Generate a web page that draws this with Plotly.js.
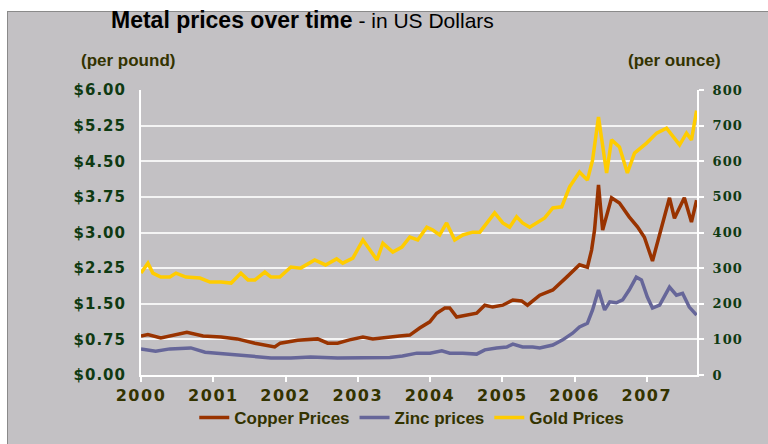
<!DOCTYPE html>
<html>
<head>
<meta charset="utf-8">
<script src="https://cdn.plot.ly/plotly-3.0.1.min.js"></script>
<style>
  html, body { margin: 0; padding: 0; background: #ffffff; }
  #frame { position: absolute; left: 7px; top: 11px; width: 761px; height: 433px;
           background: #c3c1c4; border-left: 1px solid #8a8a8a; border-top: 1px solid #8a8a8a; }
  #chart { position: absolute; left: 0; top: 0; width: 768px; height: 444px; }
  .ytick text, .y2tick text { letter-spacing: 1px; }
  .xtick text { letter-spacing: 1.5px; }
</style>
</head>
<body>
<div id="frame"></div>
<div id="chart"></div>
<script>
// ---- data ----
const copperDates = ["2000-01-01","2000-02-05","2000-04-10","2000-06-01","2000-08-20","2000-11-10","2001-02-09","2001-05-01","2001-07-30","2001-11-07","2001-12-05","2002-03-03","2002-06-12","2002-08-02","2002-09-21","2002-11-20","2003-01-27","2003-03-18","2003-05-27","2003-07-31","2003-09-21","2003-11-10","2003-12-31","2004-02-04","2004-03-16","2004-04-10","2004-05-15","2004-07-05","2004-08-24","2004-10-04","2004-11-13","2005-01-03","2005-02-23","2005-04-08","2005-05-08","2005-07-09","2005-09-13","2005-11-22","2006-01-26","2006-03-07","2006-03-28","2006-04-12","2006-05-02","2006-05-23","2006-07-07","2006-08-16","2006-10-04","2006-11-15","2006-12-20","2007-01-30","2007-03-22","2007-04-26","2007-05-21","2007-07-10","2007-08-15","2007-09-10"];
const copperPrices = [0.82,0.85,0.78,0.82,0.90,0.82,0.80,0.76,0.67,0.59,0.67,0.73,0.76,0.67,0.67,0.74,0.80,0.76,0.80,0.82,0.84,0.99,1.12,1.30,1.41,1.41,1.22,1.26,1.30,1.47,1.43,1.47,1.58,1.56,1.47,1.68,1.79,2.06,2.32,2.27,2.63,3.05,4.00,3.05,3.73,3.62,3.33,3.12,2.90,2.40,3.20,3.73,3.30,3.73,3.22,3.68];

const zincDates = ["2000-01-01","2000-03-15","2000-05-26","2000-09-09","2000-11-20","2001-03-01","2001-07-09","2001-10-19","2002-01-28","2002-05-08","2002-09-21","2003-03-03","2003-06-12","2003-08-15","2003-10-27","2004-01-01","2004-03-01","2004-04-10","2004-06-15","2004-08-24","2004-10-04","2004-12-03","2005-01-23","2005-02-23","2005-04-13","2005-06-03","2005-07-09","2005-09-13","2005-11-02","2005-12-22","2006-01-26","2006-03-07","2006-04-02","2006-05-02","2006-06-02","2006-06-28","2006-07-31","2006-09-01","2006-10-04","2006-11-09","2006-12-05","2007-01-04","2007-01-30","2007-03-07","2007-04-26","2007-05-31","2007-07-01","2007-08-04","2007-09-10"];
const zincPrices = [0.55,0.50,0.55,0.57,0.48,0.44,0.40,0.36,0.36,0.38,0.36,0.36,0.37,0.40,0.46,0.46,0.51,0.46,0.46,0.44,0.53,0.57,0.59,0.65,0.59,0.59,0.57,0.63,0.74,0.88,1.01,1.09,1.37,1.79,1.37,1.54,1.52,1.58,1.79,2.06,2.00,1.64,1.41,1.47,1.85,1.68,1.72,1.43,1.26];

const goldDates = ["2000-01-01","2000-02-05","2000-03-01","2000-04-10","2000-05-26","2000-06-26","2000-08-15","2000-10-25","2000-12-15","2001-02-09","2001-04-01","2001-05-20","2001-06-25","2001-07-30","2001-09-18","2001-10-19","2001-12-03","2002-01-28","2002-03-18","2002-05-28","2002-07-22","2002-09-16","2002-10-17","2002-12-07","2003-01-27","2003-03-03","2003-04-08","2003-05-08","2003-06-27","2003-08-12","2003-09-21","2003-10-31","2003-12-16","2004-01-15","2004-02-19","2004-03-25","2004-05-05","2004-06-15","2004-08-04","2004-09-09","2004-10-14","2004-11-23","2005-01-03","2005-02-07","2005-03-14","2005-04-13","2005-05-19","2005-08-03","2005-09-13","2005-10-28","2005-12-07","2006-01-26","2006-03-07","2006-04-02","2006-05-02","2006-05-23","2006-06-12","2006-07-07","2006-08-16","2006-09-25","2006-10-31","2006-12-31","2007-02-20","2007-04-11","2007-06-16","2007-07-21","2007-08-15","2007-09-10"];
const goldPrices = [286,314,286,275,275,286,275,272,261,261,258,286,267,267,289,275,275,303,300,323,309,326,314,328,379,351,323,370,345,359,387,379,415,407,393,427,379,393,401,401,427,455,427,415,444,427,415,441,469,472,528,570,547,603,724,651,567,660,640,567,623,651,679,693,646,679,660,742];

const leftTickVals = [0,0.75,1.5,2.25,3,3.75,4.5,5.25,6];
const leftTickText = ["$0.00","$0.75","$1.50","$2.25","$3.00","$3.75","$4.50","$5.25","$6.00"];
const rightTickVals = [0,100,200,300,400,500,600,700,800];
const yearTickVals = ["2000-01-01","2001-01-01","2002-01-01","2003-01-01","2004-01-01","2005-01-01","2006-01-01","2007-01-01"];
const yearTickText = ["2000","2001","2002","2003","2004","2005","2006","2007"];

const traces = [
  {x: copperDates, y: copperPrices, name: 'Copper Prices', type: 'scatter', mode: 'lines',
   line: {color: '#993300', width: 3.5}, yaxis: 'y'},
  {x: zincDates, y: zincPrices, name: 'Zinc prices', type: 'scatter', mode: 'lines',
   line: {color: '#666699', width: 3.5}, yaxis: 'y'},
  {x: goldDates, y: goldPrices, name: 'Gold Prices', type: 'scatter', mode: 'lines',
   line: {color: '#ffcc00', width: 3.5}, yaxis: 'y2'}
];

const layout = {
  width: 768, height: 444,
  margin: {l: 141, r: 71, t: 90, b: 69, autoexpand: false},
  paper_bgcolor: 'rgba(0,0,0,0)', plot_bgcolor: 'rgba(0,0,0,0)',
  showlegend: true,
  legend: {orientation: 'h', x: 0.487, xanchor: 'center', y: -0.151, yanchor: 'middle',
           font: {family: 'Liberation Sans, Arial, sans-serif', size: 17, color: '#333300', weight: 'bold'},
           bgcolor: 'rgba(0,0,0,0)', itemwidth: 30, tracegroupgap: 0},
  xaxis: {type: 'date', range: ['2000-01-01', '2007-09-12'], automargin: false,
          tickvals: yearTickVals, ticktext: yearTickText,
          showgrid: false, zeroline: false,
          showline: true, linecolor: '#ffffff', linewidth: 2,
          ticks: 'outside', ticklen: 5, tickcolor: '#ffffff', tickwidth: 2, ticklabelstandoff: 0,
          tickfont: {family: 'DejaVu Sans, Verdana, sans-serif', size: 16, color: '#333300', weight: 'bold'},
          fixedrange: true},
  yaxis: {range: [0, 6], tickvals: leftTickVals, ticktext: leftTickText, automargin: false,
          showgrid: true, gridcolor: '#f4f4f4', gridwidth: 2, zeroline: false,
          showline: true, linecolor: '#ffffff', linewidth: 2,
          ticks: '', ticklabelstandoff: 10,
          tickfont: {family: 'DejaVu Sans, Verdana, sans-serif', size: 15, color: '#0f3a12', weight: 'bold'},
          fixedrange: true},
  yaxis2: {range: [0, 800], tickvals: rightTickVals, overlaying: 'y', side: 'right', automargin: false,
           showgrid: false, zeroline: false,
           showline: true, linecolor: '#ffffff', linewidth: 2,
           ticks: 'outside', ticklen: 5, tickcolor: '#ffffff', tickwidth: 2, ticklabelstandoff: 6,
           tickfont: {family: 'DejaVu Serif, serif', size: 13, color: '#0f3a12', weight: 'bold'},
           fixedrange: true},
  annotations: [
    {text: '<b><span style="font-size:23px">Metal prices over time</span></b> - in US Dollars', xref: 'paper', yref: 'paper',
     x: -0.058, y: 1.245, xanchor: 'left', yanchor: 'middle', showarrow: false,
     font: {family: 'Liberation Sans, Arial, sans-serif', size: 21, color: '#000000'}},
    {text: '<b>(per pound)</b>', xref: 'paper', yref: 'paper',
     x: -0.0234, y: 1.105, xanchor: 'center', yanchor: 'middle', showarrow: false,
     font: {family: 'Liberation Sans, Arial, sans-serif', size: 17, color: '#333300'}},
    {text: '<b>(per ounce)</b>', xref: 'paper', yref: 'paper',
     x: 0.960, y: 1.105, xanchor: 'center', yanchor: 'middle', showarrow: false,
     font: {family: 'Liberation Sans, Arial, sans-serif', size: 17, color: '#333300'}}
  ]
};

Plotly.newPlot('chart', traces, layout, {displayModeBar: false, staticPlot: true});
</script>
</body>
</html>
